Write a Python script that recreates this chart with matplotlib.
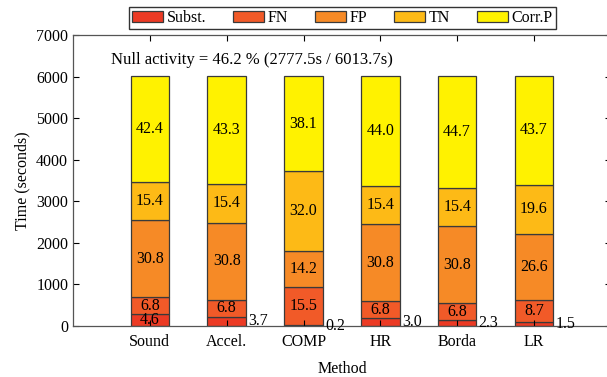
import numpy as np
import matplotlib.pyplot as plt

plt.rcParams['font.family'] = ['Liberation Serif', 'DejaVu Serif']
plt.rcParams['font.size'] = 11.5

TOTAL = 6013.7
methods = ['Sound', 'Accel.', 'COMP', 'HR', 'Borda', 'LR']
parts = ['Subst.', 'FN', 'FP', 'TN', 'Corr.P']
subst = [4.6, 3.7, 0.2, 3.0, 2.3, 1.5]
fn = [6.8, 6.8, 15.5, 6.8, 6.8, 8.7]
fp = [30.8, 30.8, 14.2, 30.8, 30.8, 26.6]
tn = [15.4, 15.4, 32.0, 15.4, 15.4, 19.6]
corrp = [42.4, 43.3, 38.1, 44.0, 44.7, 43.7]
colors = ['#ec3a24', '#f15a28', '#f68a26', '#fdba16', '#fff200']

fig = plt.figure(figsize=(6.07, 3.77), dpi=100)
ax = fig.add_axes([0.1203, 0.1353, 0.886, 0.772])

x = np.arange(len(methods))
w = 0.5
bottom = np.zeros(len(methods))
for name, pct, col in zip(parts, [subst, fn, fp, tn, corrp], colors):
    vals = np.array(pct) * TOTAL / 100
    ax.bar(x, vals, w, bottom=bottom, color=col, edgecolor='#3a3a3a',
           linewidth=0.9, label=name)
    for i, p in enumerate(pct):
        yc = bottom[i] + vals[i] / 2
        if name == 'Subst.' and p < 4:
            ax.text(x[i] + w / 2 + 0.03, yc, f'{p:.1f}', ha='left', va='center')
        else:
            ax.text(x[i], yc, f'{p:.1f}', ha='center', va='center')
    bottom += vals

ax.text(-0.5, 6400, 'Null activity = 46.2 % (2777.5s / 6013.7s)',
        ha='left', va='center', fontsize=12)

ax.set_xlim(-1, 6)
ax.set_ylim(0, 7000)
ax.set_yticks(range(0, 7001, 1000))
ax.set_xticks(x)
ax.set_xticklabels(methods)
ax.tick_params(direction='in', top=True, right=True, length=4, width=0.8)
ax.tick_params(axis='x', pad=6)
for s in ax.spines.values():
    s.set_color('#555555')
    s.set_linewidth(0.9)
ax.set_ylabel('Time (seconds)')
ax.set_xlabel('Method', labelpad=8)

leg = ax.legend(loc='lower center', bbox_to_anchor=(0.501, 1.0), ncol=5,
                fancybox=False, edgecolor='#333333', framealpha=1,
                handlelength=1.9, handleheight=0.7, columnspacing=1.7,
                handletextpad=0.25, borderpad=0.2, borderaxespad=0.35)
leg.get_frame().set_linewidth(1.0)

fig.savefig('out.png', dpi=100)
